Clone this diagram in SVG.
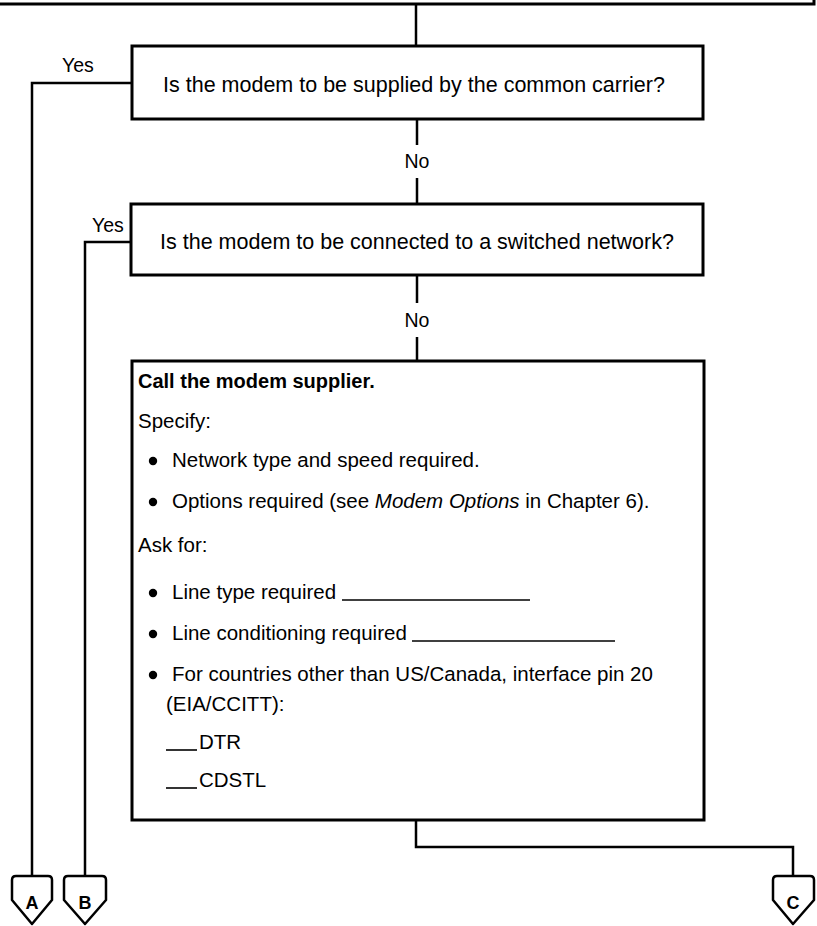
<svg xmlns="http://www.w3.org/2000/svg" width="817" height="926" viewBox="0 0 817 926">
<style>
.box{fill:#fff;stroke:#000;stroke-width:3}
.ln{fill:none;stroke:#000;stroke-width:2.5}
.t{font-family:"Liberation Sans",Arial,sans-serif;font-size:20.5px;fill:#000}
.q{font-family:"Liberation Sans",Arial,sans-serif;font-size:21.5px;fill:#000;text-anchor:middle}
.b{font-weight:bold;font-size:20px}
.lbl{font-family:"Liberation Sans",Arial,sans-serif;font-size:19.5px;fill:#000}
.ul{stroke:#000;stroke-width:1.6}
.off{fill:#fff;stroke:#000;stroke-width:2.5;stroke-linejoin:round}
.offt{font-family:"Liberation Sans",Arial,sans-serif;font-size:18px;font-weight:bold;text-anchor:middle}
</style>
<rect width="817" height="926" fill="#fff"/>
<g id="connectors">
<path class="ln" d="M0,4 H814 V0" style="stroke-width:3"/>
<path class="ln" d="M416,4 V46"/>
<path class="ln" d="M132,83 H32 V876"/>
<path class="ln" d="M417,119 V145 M417,178 V204"/>
<path class="ln" d="M131,242 H85 V876"/>
<path class="ln" d="M417,275 V303 M417,337 V361"/>
<path class="ln" d="M416,820 V847 H793 V875"/>
<text class="lbl" x="62" y="72">Yes</text>
<text class="lbl" x="417" y="168" text-anchor="middle">No</text>
<text class="lbl" x="92" y="232">Yes</text>
<text class="lbl" x="417" y="327" text-anchor="middle">No</text>
</g>
<g id="q1">
<rect class="box" x="132" y="46" width="571" height="73"/>
<text class="q" x="414" y="92">Is the modem to be supplied by the common carrier?</text>
</g>
<g id="q2">
<rect class="box" x="131" y="204" width="572" height="71"/>
<text class="q" x="417" y="249">Is the modem to be connected to a switched network?</text>
</g>
<g id="action">
<rect class="box" x="132" y="361" width="572" height="459"/>
<text class="t b" x="138" y="388">Call the modem supplier.</text>
<text class="t" x="138" y="428">Specify:</text>
<circle cx="153" cy="461" r="4.2"/>
<text class="t" x="172" y="467">Network type and speed required.</text>
<circle cx="153" cy="502" r="4.2"/>
<text class="t" x="172" y="508">Options required (see <tspan font-style="italic">Modem Options</tspan> in Chapter 6).</text>
<text class="t" x="138" y="552">Ask for:</text>
<circle cx="153" cy="593" r="4.2"/>
<text class="t" x="172" y="599">Line type required</text>
<line class="ul" x1="342" y1="600" x2="530" y2="600"/>
<circle cx="153" cy="634" r="4.2"/>
<text class="t" x="172" y="640">Line conditioning required</text>
<line class="ul" x1="412" y1="641" x2="615" y2="641"/>
<circle cx="153" cy="675" r="4.2"/>
<text class="t" x="172" y="681">For countries other than US/Canada, interface pin 20</text>
<text class="t" x="166" y="711">(EIA/CCITT):</text>
<line class="ul" x1="166" y1="750" x2="197" y2="750"/>
<text class="t" x="199" y="749">DTR</text>
<line class="ul" x1="166" y1="788" x2="197" y2="788"/>
<text class="t" x="199" y="787">CDSTL</text>
</g>
<g id="offA">
<path class="off" d="M12,880 Q12,876 16,876 H48 Q52,876 52,880 V900 L32,924 L12,900 Z"/>
<text class="offt" x="32" y="909">A</text>
</g>
<g id="offB">
<path class="off" d="M64,880 Q64,876 68,876 H102 Q106,876 106,880 V900 L85,924 L64,900 Z"/>
<text class="offt" x="85" y="909">B</text>
</g>
<g id="offC">
<path class="off" d="M773,880 Q773,876 777,876 H810 Q814,876 814,880 V900 L793,924 L773,900 Z"/>
<text class="offt" x="793" y="909">C</text>
</g>
</svg>
